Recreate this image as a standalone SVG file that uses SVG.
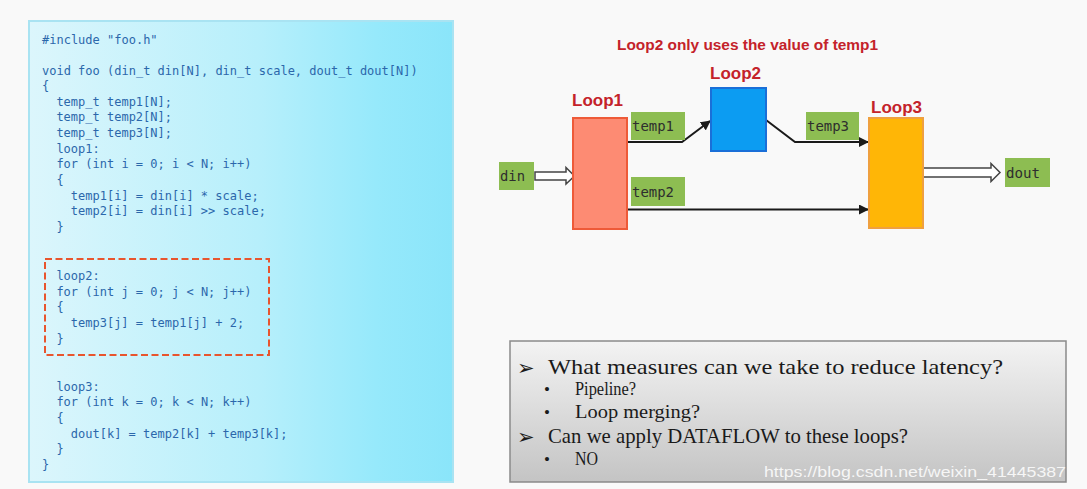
<svg xmlns="http://www.w3.org/2000/svg" width="1087" height="489" viewBox="0 0 1087 489">
<defs>
<linearGradient id="codeBg" x1="0" y1="0" x2="1" y2="0">
<stop offset="0" stop-color="#dcf6fc"/>
<stop offset="0.55" stop-color="#b6effb"/>
<stop offset="0.82" stop-color="#96e9fb"/>
<stop offset="1" stop-color="#8ae5fa"/>
</linearGradient>
<linearGradient id="noteBg" x1="0" y1="0" x2="0" y2="1">
<stop offset="0" stop-color="#f3f3f3"/>
<stop offset="1" stop-color="#c4c4c4"/>
</linearGradient>
<marker id="arr" viewBox="0 0 10 10" refX="9" refY="5" markerWidth="5" markerHeight="5" orient="auto" markerUnits="strokeWidth">
<path d="M0,0 L10,5 L0,10 z" fill="#1a1a1a"/>
</marker>
<style>
.code{font-family:"DejaVu Sans Mono","Liberation Mono",monospace;font-size:12px;fill:#2b67ab;}
.lbl{font-family:"DejaVu Sans Mono","Liberation Mono",monospace;font-size:14px;fill:#2e2e2e;}
.green{fill:#8dbd52;}
.title{font-family:"Liberation Sans","Open Sans",sans-serif;font-weight:bold;fill:#c4222a;}
.wire{fill:none;stroke:#1a1a1a;stroke-width:2;marker-end:url(#arr);}
.hollow{fill:#fff;stroke:#444;stroke-width:1.5;}
.note{font-family:"Liberation Serif","DejaVu Serif",serif;fill:#1a1a1a;}
.sym{font-family:"DejaVu Sans",sans-serif;fill:#1a1a1a;}
</style>
</defs>
<rect x="0" y="0" width="1087" height="489" fill="#f9f9f9"/>

<g id="code-panel">
<rect x="29" y="21" width="424" height="461" fill="url(#codeBg)" stroke="#a9e3f2" stroke-width="2"/>
<text class="code" x="42" y="44">#include "foo.h"</text>
<text class="code" x="42" y="75">void foo (din_t din[N], din_t scale, dout_t dout[N])</text>
<text class="code" x="42" y="90">{</text>
<text class="code" x="56.4" y="106">temp_t temp1[N];</text>
<text class="code" x="56.4" y="121">temp_t temp2[N];</text>
<text class="code" x="56.4" y="137">temp_t temp3[N];</text>
<text class="code" x="56.4" y="153">loop1:</text>
<text class="code" x="56.4" y="168">for (int i = 0; i &lt; N; i++)</text>
<text class="code" x="56.4" y="184">{</text>
<text class="code" x="70.8" y="200">temp1[i] = din[i] * scale;</text>
<text class="code" x="70.8" y="215">temp2[i] = din[i] &gt;&gt; scale;</text>
<text class="code" x="56.4" y="231">}</text>
<text class="code" x="56.4" y="280">loop2:</text>
<text class="code" x="56.4" y="296">for (int j = 0; j &lt; N; j++)</text>
<text class="code" x="56.4" y="311">{</text>
<text class="code" x="70.8" y="327">temp3[j] = temp1[j] + 2;</text>
<text class="code" x="56.4" y="343">}</text>
<text class="code" x="56.4" y="391">loop3:</text>
<text class="code" x="56.4" y="406">for (int k = 0; k &lt; N; k++)</text>
<text class="code" x="56.4" y="422">{</text>
<text class="code" x="70.8" y="438">dout[k] = temp2[k] + temp3[k];</text>
<text class="code" x="56.4" y="453">}</text>
<text class="code" x="42" y="469">}</text>
</g>
<g id="loop2-highlight">
<rect x="45" y="259" width="224" height="96" fill="none" stroke="#e8552e" stroke-width="2" stroke-dasharray="7 3.5"/>
</g>

<text class="title" x="617" y="50" font-size="14" textLength="261" lengthAdjust="spacingAndGlyphs">Loop2 only uses the value of temp1</text>

<g id="connectors">
<path class="wire" d="M627,142 L682,142 L710,121"/>
<path class="wire" d="M766,120 L795,142 L868,142"/>
<path class="wire" d="M627,209.5 L868,209.5"/>
<polygon class="hollow" points="535,172 566,172 566,167.5 574.5,176 566,184 566,180 535,180"/>
<polygon class="hollow" points="923,168 991,168 991,163.5 1000,172.5 991,181.5 991,177 923,177"/>
</g>

<g id="loop1">
<rect x="573" y="118" width="54" height="111" fill="#fd8b73" stroke="#ee5a38" stroke-width="2"/>
<text class="title" x="572" y="106" font-size="17">Loop1</text>
</g>
<g id="loop2">
<rect x="711" y="88" width="55" height="63" fill="#0c9cf2" stroke="#1a6fd8" stroke-width="2"/>
<text class="title" x="710" y="79" font-size="17">Loop2</text>
</g>
<g id="loop3">
<rect x="869" y="118" width="54" height="110" fill="#ffb606" stroke="#efa040" stroke-width="2"/>
<text class="title" x="871" y="113" font-size="17">Loop3</text>
</g>

<g id="din">
<rect class="green" x="499" y="162" width="35" height="28"/>
<text class="lbl" x="500" y="181" textLength="25" lengthAdjust="spacingAndGlyphs">din</text>
</g>
<g id="temp1">
<rect class="green" x="631" y="112" width="54" height="28"/>
<text class="lbl" x="632" y="131" textLength="42" lengthAdjust="spacingAndGlyphs">temp1</text>
</g>
<g id="temp2">
<rect class="green" x="631" y="177" width="54" height="29"/>
<text class="lbl" x="632" y="197" textLength="42" lengthAdjust="spacingAndGlyphs">temp2</text>
</g>
<g id="temp3">
<rect class="green" x="806" y="112" width="53" height="28"/>
<text class="lbl" x="807" y="131" textLength="42" lengthAdjust="spacingAndGlyphs">temp3</text>
</g>
<g id="dout">
<rect class="green" x="1005" y="158" width="45" height="29"/>
<text class="lbl" x="1006" y="178" textLength="34" lengthAdjust="spacingAndGlyphs">dout</text>
</g>

<g id="notes">
<rect x="510" y="341" width="556" height="141" fill="url(#noteBg)" stroke="#8a8a8a" stroke-width="1.5"/>
<text class="sym" x="517" y="375" font-size="21">➢</text>
<text class="note" x="548" y="374" font-size="21" textLength="455" lengthAdjust="spacingAndGlyphs">What measures can we take to reduce latency?</text>
<text class="note" x="544" y="395" font-size="17">•</text>
<text class="note" x="575" y="395" font-size="18" textLength="61" lengthAdjust="spacingAndGlyphs">Pipeline?</text>
<text class="note" x="544" y="418" font-size="17">•</text>
<text class="note" x="575" y="418" font-size="18" textLength="125" lengthAdjust="spacingAndGlyphs">Loop merging?</text>
<text class="sym" x="517" y="444" font-size="21">➢</text>
<text class="note" x="548" y="443" font-size="21" textLength="360" lengthAdjust="spacingAndGlyphs">Can we apply DATAFLOW to these loops?</text>
<text class="note" x="544" y="465" font-size="17">•</text>
<text class="note" x="575" y="465" font-size="18" textLength="23" lengthAdjust="spacingAndGlyphs">NO</text>
<text x="764" y="477" font-family="Liberation Sans, sans-serif" font-size="15" fill="#ffffff" fill-opacity="0.85" textLength="302" lengthAdjust="spacingAndGlyphs">https://blog.csdn.net/weixin_41445387</text>
</g>
</svg>
